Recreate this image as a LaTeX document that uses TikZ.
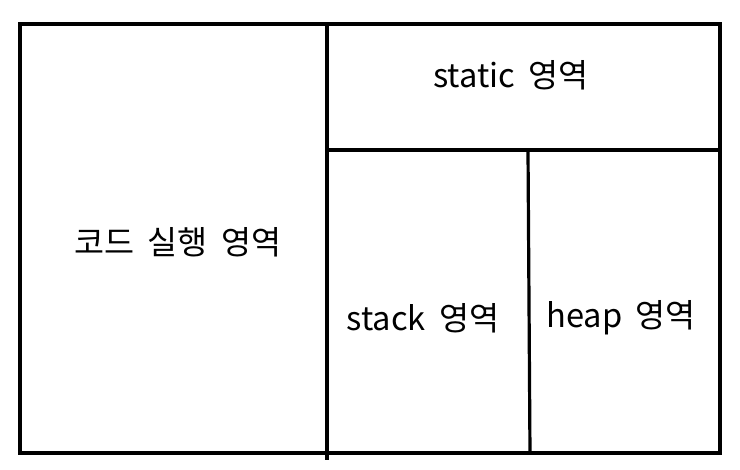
\documentclass[tikz,border=0pt]{standalone}
\usepackage{fontspec}
\setmainfont{Noto Sans CJK KR}[WordSpace=1.8]
\begin{document}
\begin{tikzpicture}[x=0.75pt,y=-0.75pt,
  wall/.style={line width=2.4pt,line cap=rect},
  lbl/.style={font=\fontsize{24.5}{28}\selectfont,inner sep=0pt}]
\useasboundingbox (0,0) rectangle (740,470);
\coordinate (tl) at (20,24);
\coordinate (br) at (720,453);
\draw[wall] (tl) rectangle (br);
\coordinate (v1t) at (327,24);
\coordinate (v1b) at (327,458);
\draw[wall] (v1t) -- (v1b);
\coordinate (h1l) at (327,150);
\coordinate (h1r) at (720,150);
\draw[wall] (h1l) -- (h1r);
\coordinate (v2t) at (528,150);
\coordinate (v2b) at (530,453);
\draw[wall] (v2t) -- (v2b);
\node[lbl] (code) at (178,242) {코드 실행 영역};
\node[lbl] (static) at (511,75) {static 영역};
\node[lbl] (stack) at (423,318) {stack 영역};
\node[lbl] (heap) at (621,318) {heap 영역};
\end{tikzpicture}
\end{document}
